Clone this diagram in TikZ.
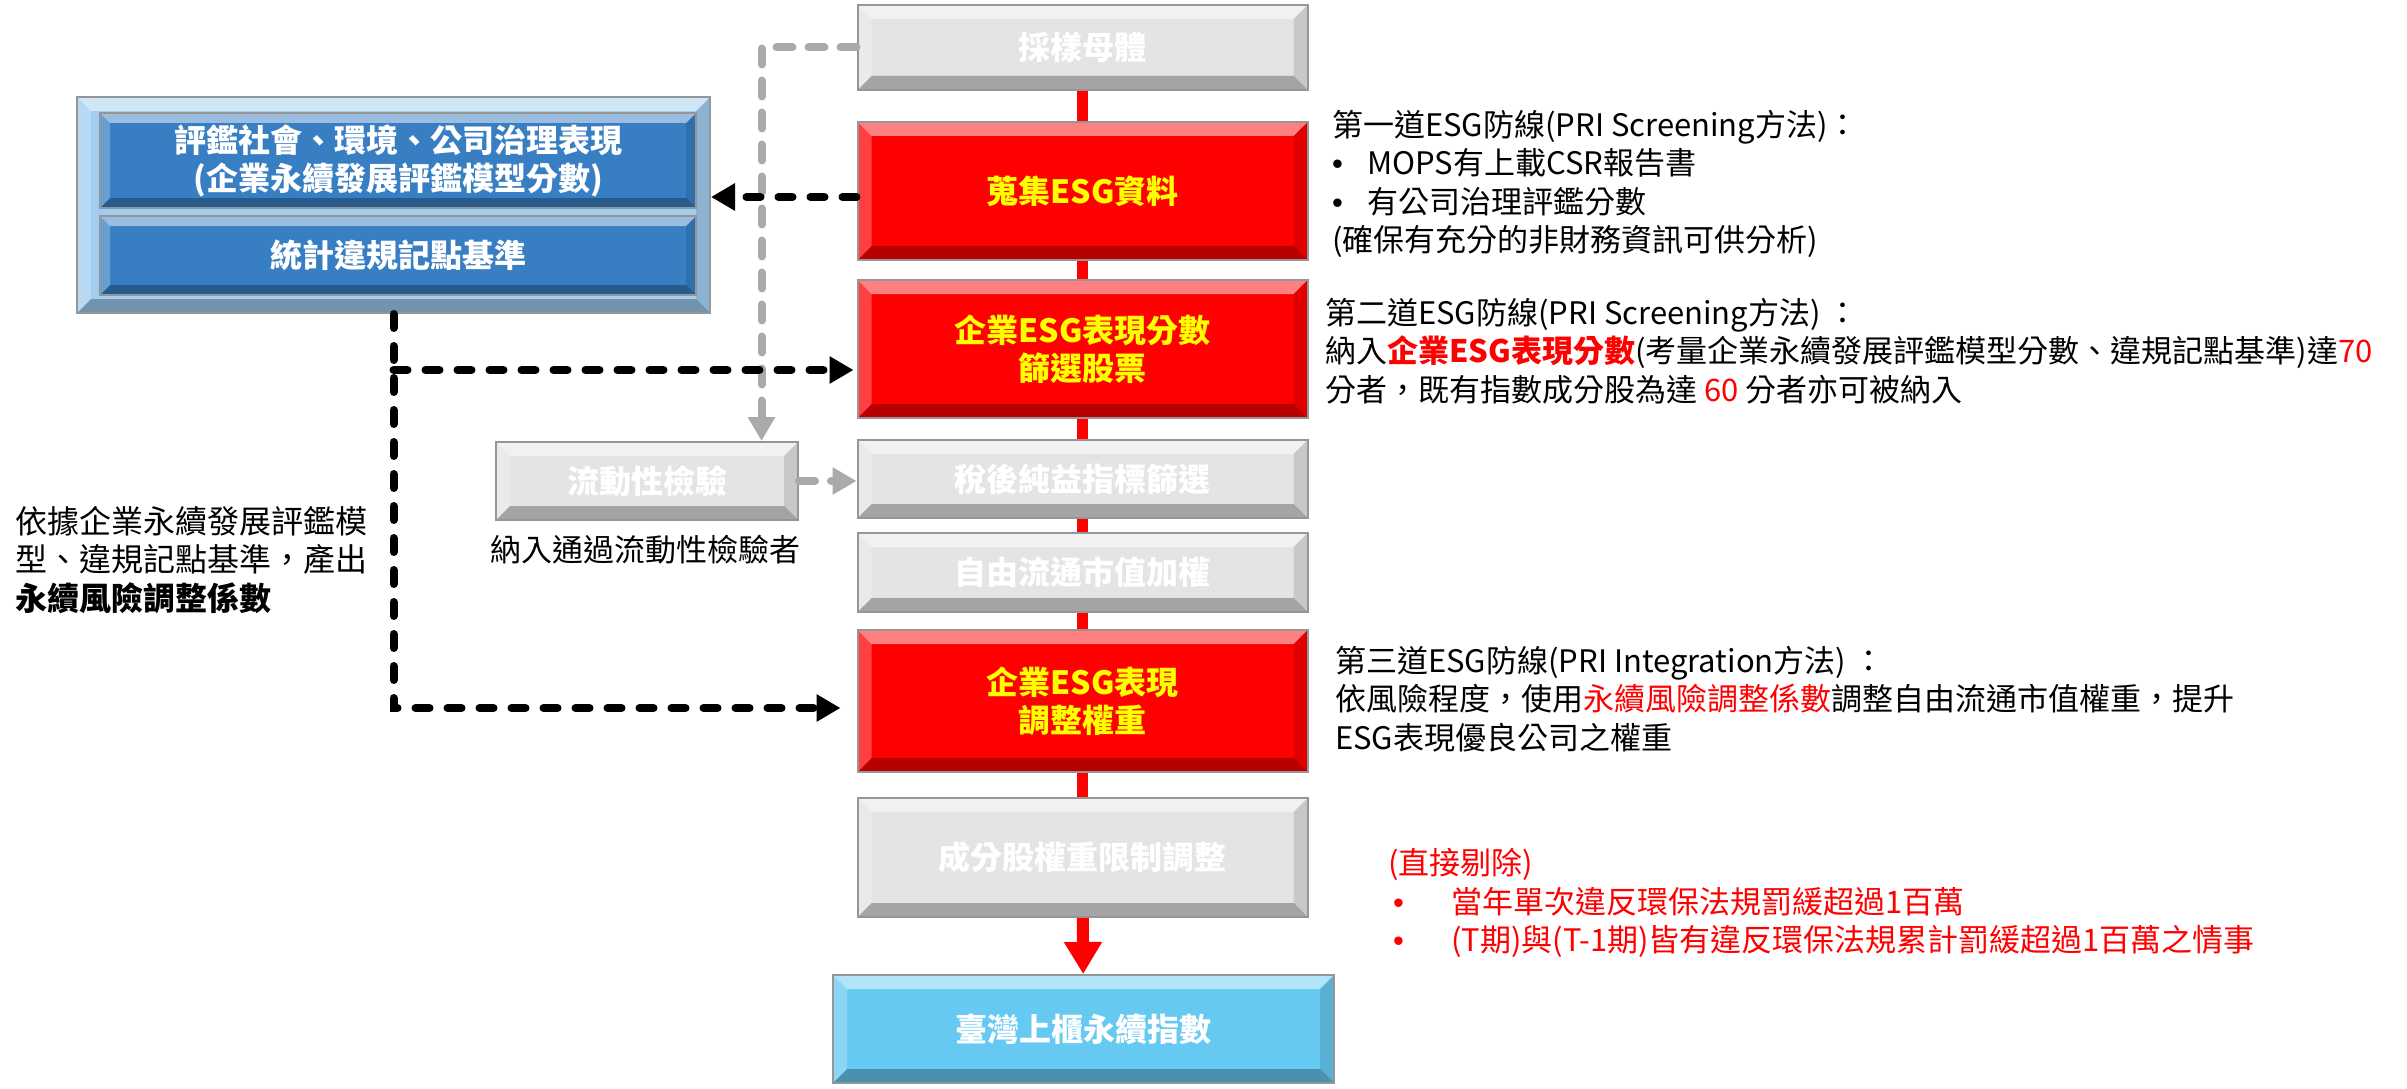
\documentclass[tikz,border=0pt]{standalone}
\usepackage{fontspec}
\setmainfont{Noto Sans CJK TC}
\newfontfamily\bulletfont{Liberation Sans}
\usetikzlibrary{arrows.meta}
\definecolor{boxgray}{RGB}{228,228,228}
\definecolor{edgegray}{RGB}{150,150,150}
\definecolor{dashgray}{RGB}{170,170,170}
\definecolor{esgblue}{RGB}{56,126,194}
\definecolor{esglight}{RGB}{160,205,240}
\definecolor{idxblue}{RGB}{102,201,242}
\definecolor{boxyellow}{RGB}{255,255,0}
\newcommand{\bulletmark}[1]{\makebox[#1][l]{\bulletfont •}}
\tikzset{
  bevel/.style={path picture={
    \fill[white,opacity=.5] (path picture bounding box.north west) -- (path picture bounding box.north east)
      -- ([shift={(-#1,-#1)}]path picture bounding box.north east) -- ([shift={(#1,-#1)}]path picture bounding box.north west) -- cycle;
    \fill[black,opacity=.28] (path picture bounding box.south west) -- (path picture bounding box.south east)
      -- ([shift={(-#1,#1)}]path picture bounding box.south east) -- ([shift={(#1,#1)}]path picture bounding box.south west) -- cycle;
    \fill[black,opacity=.12] (path picture bounding box.north east) -- (path picture bounding box.south east)
      -- ([shift={(-#1,#1)}]path picture bounding box.south east) -- ([shift={(-#1,-#1)}]path picture bounding box.north east) -- cycle;
    \fill[white,opacity=.25] (path picture bounding box.north west) -- (path picture bounding box.south west)
      -- ([shift={(#1,#1)}]path picture bounding box.south west) -- ([shift={(#1,-#1)}]path picture bounding box.north west) -- cycle;
  }},
}
\begin{document}
\begin{tikzpicture}[x=1pt, y=-1pt, font=\fontsize{31}{38.5}\selectfont,
    box/.style={draw=edgegray, line width=2pt, minimum width=450pt, inner sep=0pt, align=center,
      font=\fontsize{32}{38}\selectfont\bfseries, bevel=14pt},
    graybox/.style={box, fill=boxgray, text=white},
    redbox/.style={box, fill=red, text=boxyellow},
    redlink/.style={draw=red, line width=11pt},
    redarrow/.style={draw=red, line width=12pt, -{Triangle[length=32pt,width=36pt]}},
    blackdash/.style={line width=8pt, line cap=round, dash pattern=on 14pt off 18pt, -{Triangle[length=24pt,width=26pt]}},
    graydash/.style={draw=dashgray, line width=8pt, line cap=round, dash pattern=on 16pt off 16pt, -{Triangle[length=24pt,width=26pt]}},
    note/.style={anchor=west, align=left, inner sep=0pt}]
\useasboundingbox (0,0) rectangle (2407,1089);
\node[graybox, minimum height=85pt] (sample) at (1082.5,47.5) {採樣母體};
\node[redbox, minimum height=138pt] (collect) at (1082.5,191) {蒐集ESG資料};
\node[redbox, minimum height=138pt] (score) at (1082.5,349) {企業ESG表現分數\\篩選股票};
\node[graybox, minimum height=78pt] (profit) at (1082.5,479) {稅後純益指標篩選};
\node[graybox, minimum height=79pt] (float) at (1082.5,572.5) {自由流通市值加權};
\node[redbox, minimum height=142pt] (adjust) at (1082.5,701) {企業ESG表現\\調整權重};
\node[graybox, minimum height=119pt] (cap) at (1082.5,857.5) {成分股權重限制調整};
\node[box, fill=idxblue, text=white, minimum width=501pt, minimum height=108pt] (index) at (1083.5,1029) {臺灣上櫃永續指數};
\node[graybox, minimum width=302pt, minimum height=78pt] (liquid) at (647,481) {流動性檢驗};
\node[box, fill=esglight, minimum width=633pt, minimum height=216pt] (esg) at (393.5,205) {};
\node[box, fill=esgblue, text=white, minimum width=596pt, minimum height=95pt, bevel=10pt] (rating) at (398,160.5) {評鑑社會、環境、公司治理表現\\(企業永續發展評鑑模型分數)};
\node[box, fill=esgblue, text=white, minimum width=596pt, minimum height=79pt, bevel=10pt] (points) at (398,255.5) {統計違規記點基準};
\foreach \a/\b in {sample/collect, collect/score, score/profit, profit/float, float/adjust, adjust/cap}
  \draw[redlink] (\a) -- (\b);
\draw[redarrow] (cap) -- (index);
\coordinate (turn) at ([xshift=-95pt]sample.west);
\draw[graydash] (sample.west) -- (turn) -- (turn |- liquid.north);
\draw[graydash] (liquid.east) -- (liquid.east -| profit.west);
\coordinate (in2) at ([yshift=-6pt]collect.west);
\coordinate (in3) at ([yshift=-21pt]score.west);
\coordinate (in6) at ([yshift=-7pt]adjust.west);
\draw[blackdash] (in2) -- (in2 -| esg.east);
\draw[blackdash, shorten >=3pt] (esg.south |- in3) -- (in3);
\draw[blackdash, shorten >=16pt] (esg.south) |- (in6);
\node[note] (first) at (1332,184) {第一道ESG防線(PRI Screening方法)：\\\bulletmark{35pt}MOPS有上載CSR報告書\\\bulletmark{35pt}有公司治理評鑑分數\\(確保有充分的非財務資訊可供分析)};
\node[note] (second) at (1325,351) {第二道ESG防線(PRI Screening方法) ：\\納入\textcolor{red}{\textbf{企業ESG表現分數}}(考量企業永續發展評鑑模型分數、違規記點基準)達\textcolor{red}{70}\\分者，既有指數成分股為達 \textcolor{red}{60} 分者亦可被納入};
\node[note] (third) at (1335,699) {第三道ESG防線(PRI Integration方法) ：\\依風險程度，使用\textcolor{red}{永續風險調整係數}調整自由流通市值權重，提升\\ESG表現優良公司之權重};
\node[note, text=red] (remove) at (1388,903) {(直接剔除)\\\hspace*{5pt}\bulletmark{58pt}當年單次違反環保法規罰緩超過1百萬\\\hspace*{5pt}\bulletmark{58pt}(T期)與(T-1期)皆有違反環保法規累計罰緩超過1百萬之情事};
\node[note, font=\fontsize{32}{38.5}\selectfont] (basis) at (15,560) {依據企業永續發展評鑑模\\型、違規記點基準，產出\\\textbf{永續風險調整係數}};
\node[inner sep=0pt] (pass) at (645,550) {納入通過流動性檢驗者};
\end{tikzpicture}
\end{document}
